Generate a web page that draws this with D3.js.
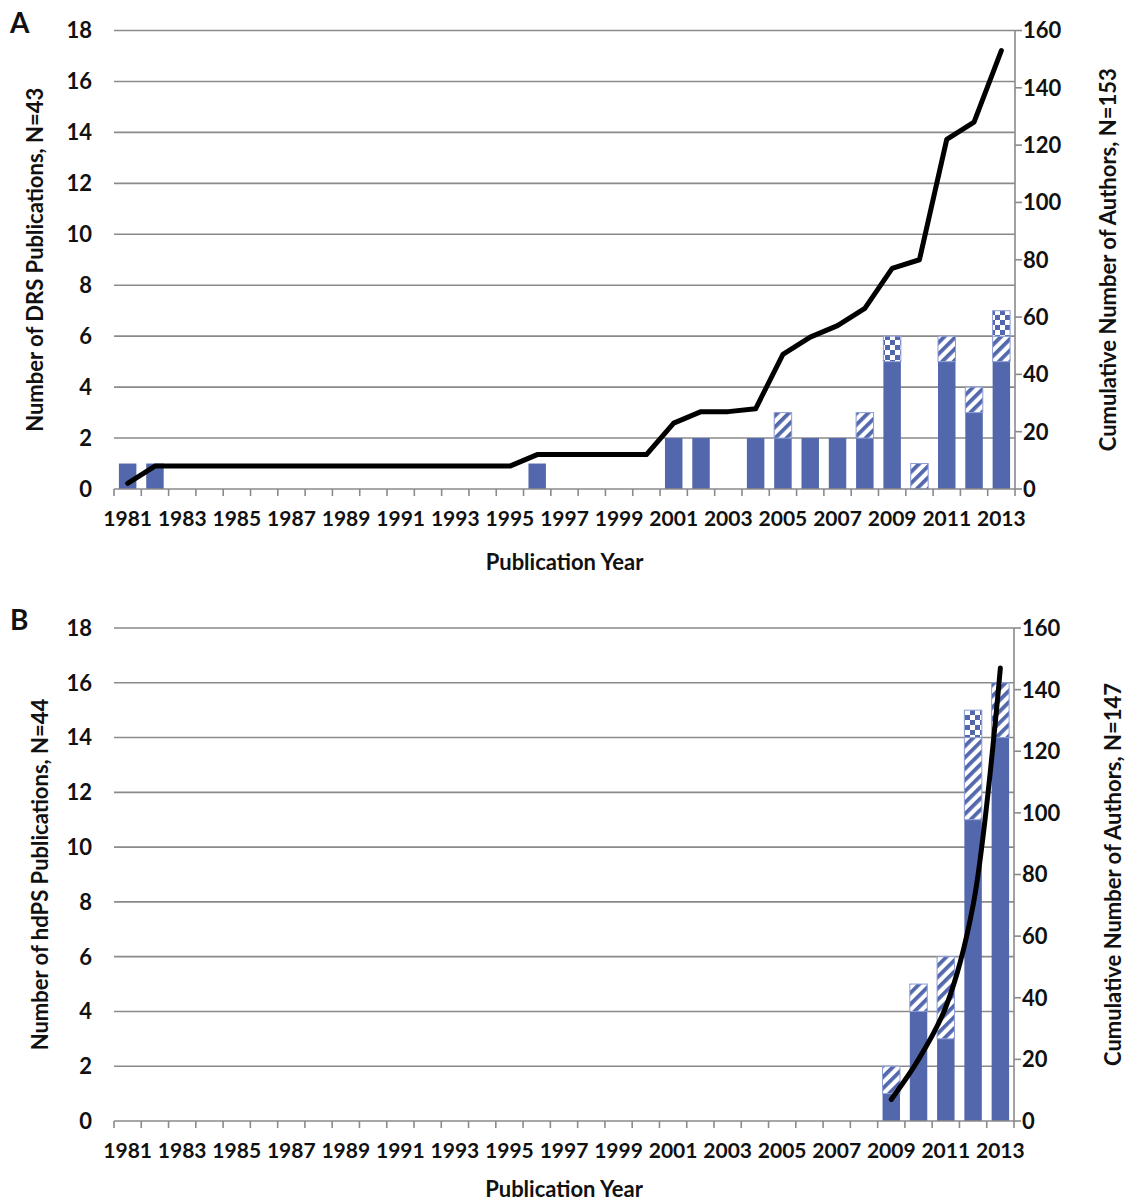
<!DOCTYPE html>
<html>
<head>
<meta charset="utf-8">
<script src="https://cdnjs.cloudflare.com/ajax/libs/d3/7.8.5/d3.min.js"></script>
<style>
  body { margin: 0; background: #fff; }
  svg text { font-family: Lato, "Open Sans", sans-serif; font-weight: bold; fill: #111; }
</style>
</head>
<body>
<svg id="chart" width="1127" height="1203"></svg>
<script>
// --- data ---
const years = d3.range(1981, 2014);   // categories 1981..2013
const tickYears = years.filter(y => (y - 1981) % 2 === 0);
const leftTicks = [0, 2, 4, 6, 8, 10, 12, 14, 16, 18];
const rightTicks = [0, 20, 40, 60, 80, 100, 120, 140, 160];

// panel A - DRS
const drsSolid = [1,1,0,0,0,0,0,0,0,0,0,0,0,0,0,1,0,0,0,0,2,2,0,2,2,2,2,2,5,0,5,3,5];
const drsHatch = [0,0,0,0,0,0,0,0,0,0,0,0,0,0,0,0,0,0,0,0,0,0,0,0,1,0,0,1,0,1,1,1,1];
const drsCheck = [0,0,0,0,0,0,0,0,0,0,0,0,0,0,0,0,0,0,0,0,0,0,0,0,0,0,0,0,1,0,0,0,1];
const drsAuthors = [2,8,8,8,8,8,8,8,8,8,8,8,8,8,8,12,12,12,12,12,23,27,27,28,47,53,57,63,77,80,122,128,153];

// panel B - hdPS
const hdpsSolid = [0,0,0,0,0,0,0,0,0,0,0,0,0,0,0,0,0,0,0,0,0,0,0,0,0,0,0,0,1,4,3,11,14];
const hdpsHatch = [0,0,0,0,0,0,0,0,0,0,0,0,0,0,0,0,0,0,0,0,0,0,0,0,0,0,0,0,1,1,3,3,2];
const hdpsCheck = [0,0,0,0,0,0,0,0,0,0,0,0,0,0,0,0,0,0,0,0,0,0,0,0,0,0,0,0,0,0,0,1,0];
const hdpsAuthors = [null,null,null,null,null,null,null,null,null,null,null,null,null,null,null,null,null,null,null,null,null,null,null,null,null,null,null,null,7,20,37,70,147];

const blue = "#5367ad";
const svg = d3.select("#chart");

// patterns for the hatched / checkered segments
const defs = svg.append("defs");
const hatch = defs.append("pattern")
  .attr("id", "hatch")
  .attr("patternUnits", "userSpaceOnUse")
  .attr("width", 8).attr("height", 8)
  .attr("patternTransform", "rotate(45)");
hatch.append("rect").attr("width", 8).attr("height", 8).attr("fill", "#fff");
hatch.append("rect").attr("width", 3.8).attr("height", 8).attr("fill", blue);

const check = defs.append("pattern")
  .attr("id", "check")
  .attr("patternUnits", "userSpaceOnUse")
  .attr("width", 10).attr("height", 10);
check.append("rect").attr("width", 10).attr("height", 10).attr("fill", "#fff");
check.append("rect").attr("width", 5).attr("height", 5).attr("fill", blue);
check.append("rect").attr("x", 5).attr("y", 5).attr("width", 5).attr("height", 5).attr("fill", blue);

function drawPanel(opt) {
  const x = d3.scaleBand().domain(years).range([opt.left, opt.right]).paddingInner(0.36).paddingOuter(0.18);
  const xEdges = d3.scaleLinear().domain([0, years.length]).range([opt.left, opt.right]);
  const yL = d3.scaleLinear().domain([0, 18]).range([opt.bottom, opt.top]);
  const yR = d3.scaleLinear().domain([0, 160]).range([opt.bottom, opt.top]);

  const g = svg.append("g");

  // gridlines
  g.append("g").selectAll("line")
    .data(leftTicks.filter(d => d > 0))
    .enter().append("line")
    .attr("x1", opt.left).attr("x2", opt.right)
    .attr("y1", d => yL(d)).attr("y2", d => yL(d))
    .attr("stroke", "#8a8a8a").attr("stroke-width", 1.6);

  // left tick labels
  g.append("g").selectAll("text")
    .data(leftTicks)
    .enter().append("text")
    .attr("x", 92).attr("y", d => yL(d))
    .attr("dy", "0.36em")
    .attr("text-anchor", "end")
    .attr("font-size", 22)
    .text(d => d);

  // stacked bars
  const stack = years.map((yr, i) => {
    const s = opt.solid[i], h = opt.hatch[i], c = opt.check[i];
    return [
      { yr: yr, y0: 0, y1: s, fill: blue, stroke: "none" },
      { yr: yr, y0: s, y1: s + h, fill: "url(#hatch)", stroke: "#8c9dd6" },
      { yr: yr, y0: s + h, y1: s + h + c, fill: "url(#check)", stroke: "#8c9dd6" }
    ];
  }).flat().filter(d => d.y1 > d.y0);

  g.append("g").selectAll("rect")
    .data(stack)
    .enter().append("rect")
    .attr("x", d => x(d.yr))
    .attr("width", x.bandwidth())
    .attr("y", d => yL(d.y1))
    .attr("height", d => yL(d.y0) - yL(d.y1))
    .attr("fill", d => d.fill)
    .attr("stroke", d => d.stroke)
    .attr("stroke-width", 1);

  // bottom axis
  const axisCol = "#8a8a8a";
  g.append("line")
    .attr("x1", opt.left).attr("x2", opt.right)
    .attr("y1", opt.bottom).attr("y2", opt.bottom)
    .attr("stroke", axisCol).attr("stroke-width", 1.6);
  g.append("g").selectAll("line")
    .data(d3.range(years.length + 1))
    .enter().append("line")
    .attr("x1", d => xEdges(d)).attr("x2", d => xEdges(d))
    .attr("y1", opt.bottom).attr("y2", opt.bottom + 7)
    .attr("stroke", axisCol).attr("stroke-width", 1.6);
  g.append("g").selectAll("text")
    .data(tickYears)
    .enter().append("text")
    .attr("x", d => x(d) + x.bandwidth() / 2)
    .attr("y", opt.bottom + 29)
    .attr("dy", "0.36em")
    .attr("text-anchor", "middle")
    .attr("font-size", 21)
    .text(d => d);

  // right axis
  g.append("line")
    .attr("x1", opt.right).attr("x2", opt.right)
    .attr("y1", opt.top).attr("y2", opt.bottom)
    .attr("stroke", axisCol).attr("stroke-width", 1.6);
  g.append("g").selectAll("line")
    .data(rightTicks)
    .enter().append("line")
    .attr("x1", opt.right).attr("x2", opt.right + 7)
    .attr("y1", d => yR(d)).attr("y2", d => yR(d))
    .attr("stroke", axisCol).attr("stroke-width", 1.6);
  g.append("g").selectAll("text")
    .data(rightTicks)
    .enter().append("text")
    .attr("x", opt.right + 8).attr("y", d => yR(d))
    .attr("dy", "0.36em")
    .attr("font-size", 22)
    .text(d => d);

  // cumulative authors line
  const line = d3.line()
    .defined(d => d.v != null)
    .x(d => x(d.yr) + x.bandwidth() / 2)
    .y(d => yR(d.v))
    .curve(opt.curve);
  g.append("path")
    .datum(years.map((yr, i) => ({ yr: yr, v: opt.authors[i] })))
    .attr("d", line)
    .attr("fill", "none")
    .attr("stroke", "#000")
    .attr("stroke-width", 5)
    .attr("stroke-linejoin", "round")
    .attr("stroke-linecap", "round");

  // titles
  const midY = (opt.top + opt.bottom) / 2;
  g.append("text")
    .attr("transform", `translate(${opt.leftTitleX},${midY}) rotate(-90)`)
    .attr("text-anchor", "middle").attr("dy", "0.36em")
    .attr("font-size", 22)
    .text(opt.leftTitle);
  g.append("text")
    .attr("transform", `translate(${opt.rightTitleX},${midY}) rotate(-90)`)
    .attr("text-anchor", "middle").attr("dy", "0.36em")
    .attr("font-size", 22)
    .text(opt.rightTitle);
  g.append("text")
    .attr("x", (opt.left + opt.right) / 2).attr("y", opt.bottom + opt.xTitleOff)
    .attr("text-anchor", "middle").attr("dy", "0.36em")
    .attr("font-size", 22)
    .text("Publication Year");
  g.append("text")
    .attr("x", 10).attr("y", opt.top - 8)
    .attr("dy", "0.36em")
    .attr("font-size", 28)
    .text(opt.label);
}

drawPanel({
  label: "A", top: 30.5, bottom: 489, left: 114, right: 1015,
  solid: drsSolid, hatch: drsHatch, check: drsCheck, authors: drsAuthors,
  curve: d3.curveLinear, xTitleOff: 73,
  leftTitle: "Number of DRS Publications, N=43", leftTitleX: 35,
  rightTitle: "Cumulative Number of Authors, N=153", rightTitleX: 1108
});

drawPanel({
  label: "B", top: 628, bottom: 1121, left: 114, right: 1014,
  solid: hdpsSolid, hatch: hdpsHatch, check: hdpsCheck, authors: hdpsAuthors,
  curve: d3.curveCatmullRom, xTitleOff: 68,
  leftTitle: "Number of hdPS Publications, N=44", leftTitleX: 40,
  rightTitle: "Cumulative Number of Authors, N=147", rightTitleX: 1113
});
</script>
</body>
</html>
